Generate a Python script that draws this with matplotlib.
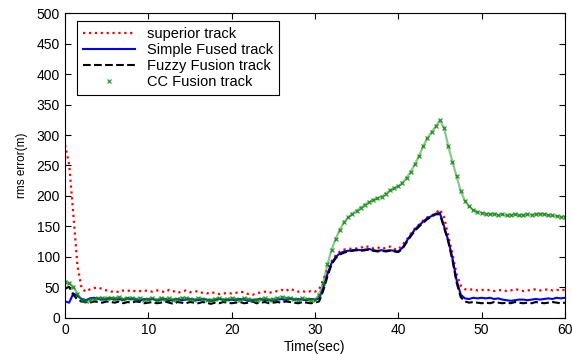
import numpy as np
import matplotlib
matplotlib.use('Agg')
import matplotlib.pyplot as plt

plt.rcParams['font.family'] = ['Liberation Sans', 'DejaVu Sans']

# time axis, sampled every 0.5 s
t = np.arange(0, 60.5, 0.5)

superior = [284, 252, 170, 85, 48, 43, 47, 49, 50, 47, 45,
            43, 44, 42, 45, 44, 46, 43, 44, 45, 44,
            43, 45, 44, 42, 46, 44, 41, 43, 45, 42,
            43, 44, 41, 40, 42, 41, 39, 40, 41, 40,
            41, 43, 42, 39, 38, 40, 42, 43, 41, 43,
            44, 46, 44, 48, 45, 43, 44, 42, 44, 43,
            47, 62, 80, 93, 103, 109, 112, 114, 113, 114,
            115, 118, 116, 114, 116, 113, 115, 117, 113, 112,
            120, 128, 138, 147, 153, 160, 165, 168, 172, 178,
            165, 135, 105, 72, 53, 47, 46, 47, 45, 46,
            45, 46, 44, 45, 46, 44, 45, 47, 46, 44,
            45, 46, 47, 45, 46, 47, 45, 46, 45, 46]

simple_fused = [27, 25, 40, 36, 31, 29, 32, 33, 31, 30, 31,
                32, 30, 31, 29, 32, 31, 30, 28, 31, 30,
                31, 29, 30, 31, 28, 30, 31, 29, 30, 31,
                30, 29, 31, 30, 28, 29, 31, 30, 29, 30,
                29, 31, 30, 28, 29, 30, 31, 29, 30, 28,
                30, 31, 29, 32, 30, 31, 30, 29, 31, 30,
                32, 50, 72, 90, 100, 106, 109, 110, 111, 112,
                111, 112, 113, 111, 110, 111, 110, 111, 110, 109,
                115, 126, 136, 145, 152, 158, 164, 167, 171, 172,
                150, 127, 98, 62, 38, 32, 31, 33, 32, 33,
                32, 33, 31, 32, 30, 29, 28, 29, 30, 30,
                29, 30, 31, 30, 31, 32, 31, 33, 32, 33]

fuzzy_fusion = [48, 51, 38, 30, 27, 26, 25, 27, 26, 25, 27,
                26, 25, 27, 24, 26, 25, 27, 26, 24, 25,
                26, 24, 25, 27, 25, 23, 26, 25, 24, 26,
                25, 24, 26, 25, 23, 25, 24, 26, 25, 24,
                25, 26, 24, 25, 27, 24, 25, 26, 24, 25,
                26, 25, 27, 26, 25, 24, 26, 25, 24, 25,
                27, 45, 68, 88, 98, 104, 107, 109, 110, 111,
                110, 111, 112, 110, 109, 110, 109, 110, 109, 108,
                113, 124, 134, 143, 150, 156, 162, 166, 170, 170,
                148, 125, 95, 58, 34, 27, 25, 26, 25, 24,
                25, 24, 26, 25, 24, 25, 24, 26, 25, 24,
                25, 24, 26, 25, 24, 25, 26, 25, 24, 25]

cc_fusion = [59, 57, 51, 40, 29, 28, 30, 31, 32, 33, 32,
             33, 32, 34, 31, 32, 33, 31, 32, 30, 31,
             32, 30, 33, 31, 32, 30, 31, 33, 32, 31,
             30, 32, 31, 29, 30, 31, 32, 30, 31, 32,
             31, 30, 32, 31, 30, 29, 31, 32, 30, 31,
             32, 34, 33, 32, 31, 30, 32, 31, 30, 30,
             38, 58, 88, 112, 130, 145, 157, 165, 171, 176,
             181, 186, 190, 194, 196, 199, 204, 209, 213, 216,
             222, 230, 240, 252, 266, 282, 295, 305, 314, 324,
             312, 282, 256, 232, 208, 192, 183, 177, 174, 172,
             171, 170, 171, 169, 170, 168, 169, 170, 168, 169,
             170, 169, 170, 171, 170, 169, 168, 167, 166, 166]

fig = plt.figure(figsize=(5.72, 3.54), dpi=100)
ax = fig.add_axes([0.1136, 0.102, 0.874, 0.861])

ax.plot(t, superior, color='red', linestyle=':', linewidth=1.6, label='superior track')
ax.plot(t, simple_fused, color='blue', linestyle='-', linewidth=1.5, label='Simple Fused track')
ax.plot(t, fuzzy_fusion, color='black', linestyle='--', linewidth=1.5, label='Fuzzy Fusion track')
# dense cross markers in the original, thin line keeps the trace continuous
ax.plot(t, cc_fusion, color='#2e9a2e', linewidth=1.6, alpha=0.55)
ax.plot(t, cc_fusion, color='green', linestyle='none', marker='x', markersize=3.5,
        markeredgewidth=0.9, alpha=0.8, label='CC Fusion track')

ax.set_xlim(0, 60)
ax.set_ylim(0, 500)
ax.set_xticks(range(0, 61, 10))
ax.set_yticks(range(0, 501, 50))
ax.tick_params(direction='in', top=True, right=True, length=4, labelsize=10, width=0.8)
for s in ax.spines.values():
    s.set_linewidth(0.8)

ax.set_xlabel('Time(sec)', fontsize=10, labelpad=2)
ax.set_ylabel('rms error(m)', fontsize=8.5, labelpad=6)

leg = ax.legend(loc='upper left', bbox_to_anchor=(0.024, 0.974), borderaxespad=0,
                fontsize=10.5, fancybox=False, framealpha=1, edgecolor='black',
                handlelength=3.6, numpoints=1, labelspacing=0.15, borderpad=0.4,
                handletextpad=0.8)
leg.get_frame().set_linewidth(0.8)

fig.savefig('out.png', dpi=100)
